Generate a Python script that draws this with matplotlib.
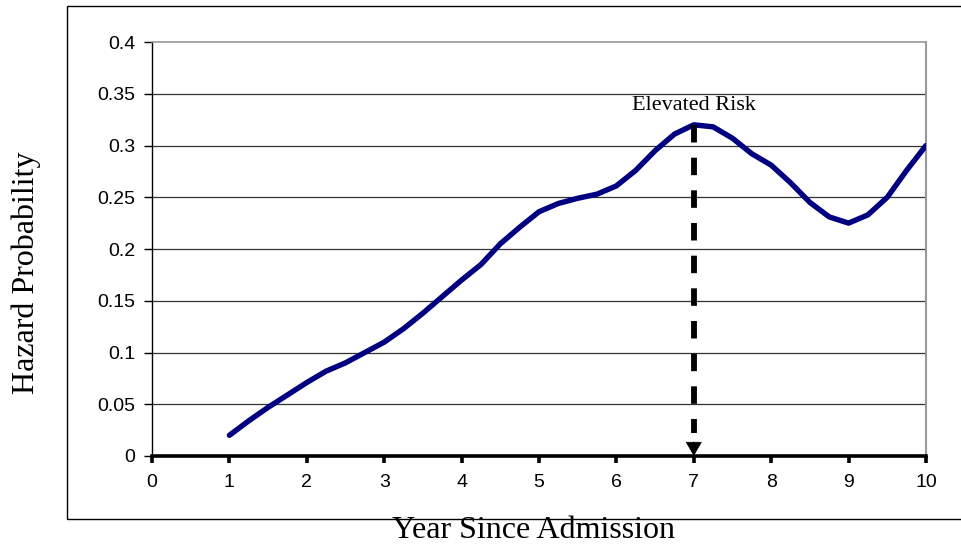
import matplotlib
matplotlib.use("Agg")
import matplotlib.pyplot as plt
from matplotlib.patches import Rectangle

# Hazard probability by year since admission (quarter-year steps)
years = [1.00, 1.25, 1.50, 1.75, 2.00, 2.25, 2.50, 2.75, 3.00, 3.25, 3.50, 3.75,
         4.00, 4.25, 4.50, 4.75, 5.00, 5.25, 5.50, 5.75, 6.00, 6.25, 6.50, 6.75,
         7.00, 7.25, 7.50, 7.75, 8.00, 8.25, 8.50, 8.75, 9.00, 9.25, 9.50, 9.75, 10.00]
hazard = [0.020, 0.034, 0.047, 0.059, 0.071, 0.082, 0.090, 0.100, 0.110, 0.123, 0.138, 0.154,
          0.170, 0.185, 0.205, 0.221, 0.236, 0.244, 0.249, 0.253, 0.261, 0.276, 0.295, 0.311,
          0.320, 0.318, 0.307, 0.292, 0.281, 0.264, 0.245, 0.231, 0.225, 0.233, 0.250, 0.276, 0.300]

x_ticks = list(range(0, 11))
y_ticks = [0, 0.05, 0.1, 0.15, 0.2, 0.25, 0.3, 0.35, 0.4]
y_tick_labels = ["0", "0.05", "0.1", "0.15", "0.2", "0.25", "0.3", "0.35", "0.4"]

peak_year = 7
peak_value = 0.32
peak_label = "Elevated Risk"

fig = plt.figure(figsize=(9.61, 5.49), dpi=100)
ax = fig.add_axes([152 / 961, 93 / 549, (926 - 152) / 961, (456 - 42) / 549])

# outer chart frame (open on the right)
fig.patches.append(Rectangle((67 / 961, 30 / 549), 1.2, (519 - 6) / 549,
                             transform=fig.transFigure, fill=False,
                             edgecolor="black", linewidth=1.0, clip_on=False))

ax.set_xlim(0, 10)
ax.set_ylim(0, 0.4)

for y in y_ticks[1:-1]:
    ax.axhline(y, color="#333333", linewidth=0.9, zorder=1)

ax.plot(years, hazard, color="#000080", linewidth=3.9, solid_capstyle="round",
        solid_joinstyle="round", zorder=3)

# dashed pointer from the peak down to the axis
ax.plot([peak_year, peak_year], [peak_value, 0.022], color="black", linewidth=4.2,
        dashes=(3.0, 2.6), zorder=4)
ax.annotate("", xy=(peak_year, 0), xytext=(peak_year, 0.0135),
            arrowprops=dict(arrowstyle="-|>,head_width=0.27,head_length=0.47",
                            mutation_scale=20, color="black", lw=0.5,
                            shrinkA=0, shrinkB=0), zorder=4)
ax.text(peak_year, peak_value + 0.019, peak_label, ha="center", va="center",
        fontsize=16, family="Liberation Serif")

ax.spines["top"].set_color("#999999")
ax.spines["right"].set_color("#999999")
ax.spines["top"].set_linewidth(1.2)
ax.spines["right"].set_linewidth(1.5)
ax.spines["left"].set_linewidth(1.0)
ax.spines["bottom"].set_linewidth(2.6)
ax.spines["bottom"].set_zorder(5)

ax.set_xticks(x_ticks)
ax.set_xticklabels([str(t) for t in x_ticks])
ax.set_yticks(y_ticks)
ax.set_yticklabels(y_tick_labels)
ax.tick_params(axis="x", direction="out", length=5, width=2.6, pad=8,
               labelsize=14)
ax.tick_params(axis="y", direction="out", length=6, width=1.0, pad=6,
               labelsize=14)
for lab in ax.get_xticklabels() + ax.get_yticklabels():
    lab.set_family("Liberation Sans")

fig.text(534 / 961, 1 - 531 / 549, "Year Since Admission",
         ha="center", va="center", fontsize=23, family="Liberation Serif")
fig.text(26 / 961, 1 - 273 / 549, "Hazard Probability", rotation=90,
         ha="center", va="center", fontsize=23, family="Liberation Serif")

fig.savefig("out.png", dpi=100)
